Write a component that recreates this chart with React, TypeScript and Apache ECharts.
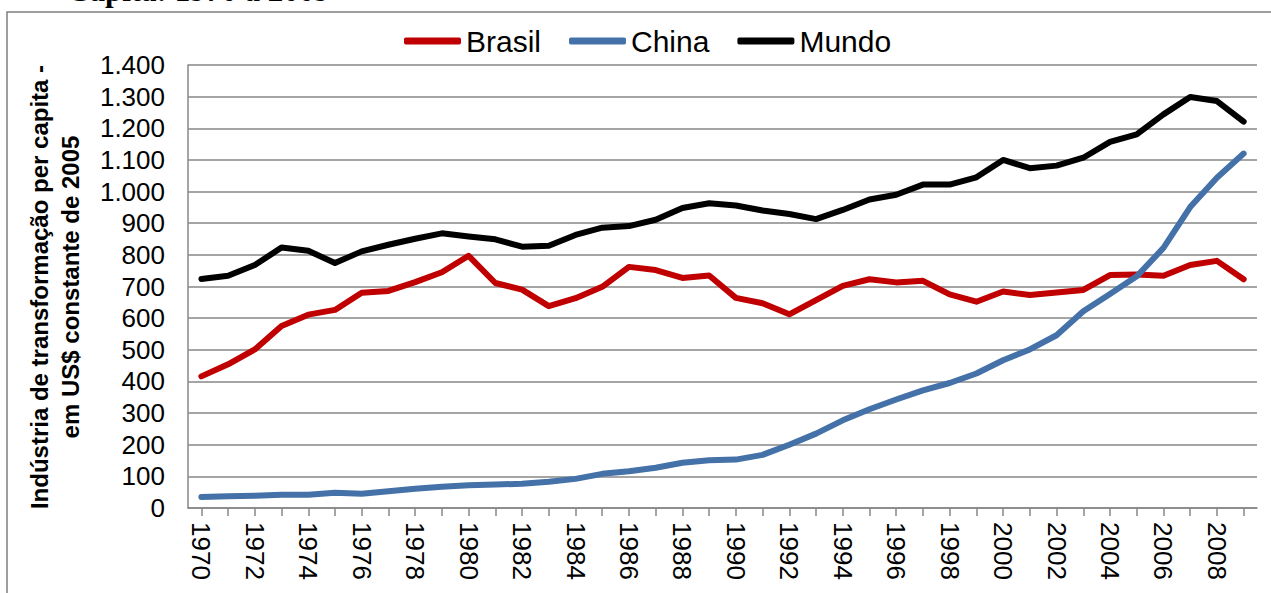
import React, { useEffect, useRef } from "react";
import * as echarts from "echarts";

const years = [
  "1970","1971","1972","1973","1974","1975","1976","1977","1978","1979",
  "1980","1981","1982","1983","1984","1985","1986","1987","1988","1989",
  "1990","1991","1992","1993","1994","1995","1996","1997","1998","1999",
  "2000","2001","2002","2003","2004","2005","2006","2007","2008","2009",
];

const brasil = [
  416, 454, 501, 575, 611, 626, 680, 686, 714, 745,
  797, 711, 690, 638, 663, 699, 762, 752, 727, 735,
  664, 647, 612, 657, 702, 723, 713, 718, 675, 652,
  684, 673, 681, 689, 736, 738, 734, 768, 781, 723,
];

const china = [
  35, 37, 39, 42, 42, 48, 45, 53, 61, 67,
  72, 74, 77, 83, 92, 108, 116, 127, 143, 151,
  153, 168, 200, 235, 277, 312, 343, 372, 395, 425,
  467, 501, 546, 622, 676, 732, 822, 951, 1044, 1120,
];

const mundo = [
  724, 734, 768, 823, 813, 774, 811, 832, 851, 868,
  858, 849, 826, 829, 863, 886, 891, 911, 948, 963,
  956, 940, 929, 913, 942, 975, 990, 1022, 1022, 1045,
  1100, 1074, 1082, 1107, 1157, 1181, 1244, 1299, 1286, 1221,
];

const seriesNames = ["Brasil", "China", "Mundo"];
const seriesColors = ["#C00000", "#4471A8", "#000000"];
const yAxisTitle = "Indústria de transformação per capita -\nem US$ constante de 2005";
const topTitle = "Capita: 1970 a 2009";

function fmt(v: number): string {
  if (v >= 1000) {
    return Math.floor(v / 1000) + "." + String(v % 1000).padStart(3, "0");
  }
  return String(v);
}

export default function App() {
  const ref = useRef<HTMLDivElement>(null);
  useEffect(() => {
    if (!ref.current) return;
    const chart = echarts.init(ref.current, null, { renderer: "svg" });
    const values = [brasil, china, mundo];
    const gridColor = "#878787";
    chart.setOption({
      animation: false,
      backgroundColor: "#ffffff",
      textStyle: { fontFamily: "Liberation Sans" },
      graphic: [
        {
          type: "rect",
          z: -10,
          shape: { x: 7, y: 12, width: 1400, height: 800 },
          style: { fill: "none", stroke: "#7f7f7f", lineWidth: 1.5 },
        },
        {
          type: "text",
          left: 67,
          top: -25,
          style: {
            text: topTitle,
            font: 'bold 31px "Liberation Serif"',
            fill: "#000",
          },
        },
        {
          type: "text",
          x: 55,
          y: 287,
          rotation: Math.PI / 2,
          style: {
            text: yAxisTitle,
            font: 'bold 24px "Liberation Sans"',
            fill: "#000",
            align: "center",
            verticalAlign: "middle",
            lineHeight: 31,
          },
        },
      ],
      legend: {
        left: 404,
        top: 26,
        padding: 0,
        itemWidth: 57,
        itemHeight: 7,
        itemGap: 28,
        icon: "roundRect",
        textStyle: { fontSize: 30, color: "#000", fontFamily: "Liberation Sans" },
        data: seriesNames,
      },
      grid: { left: 188, right: 14, top: 65, bottom: 85, containLabel: false },
      xAxis: {
        type: "category",
        data: years,
        boundaryGap: true,
        axisLine: { show: true, lineStyle: { color: gridColor, width: 1.5 } },
        axisTick: {
          show: true,
          alignWithLabel: true,
          interval: 0,
          length: 8,
          lineStyle: { color: gridColor, width: 1.5 },
        },
        axisLabel: {
          interval: 1,
          rotate: -90,
          margin: 14,
          fontSize: 26,
          color: "#000",
          fontFamily: "Liberation Sans",
        },
        splitLine: { show: false },
      },
      yAxis: {
        type: "value",
        min: 0,
        max: 1400,
        interval: 100,
        axisLine: { show: true, lineStyle: { color: gridColor, width: 1.5 } },
        axisTick: { show: false },
        axisLabel: {
          formatter: (v: number) => fmt(v),
          fontSize: 26,
          margin: 23,
          color: "#000",
          fontFamily: "Liberation Sans",
        },
        splitLine: { show: true, lineStyle: { color: gridColor, width: 1.5 } },
      },
      series: seriesNames.map((name, i) => ({
        name,
        type: "line",
        data: values[i],
        symbol: "none",
        color: seriesColors[i],
        lineStyle: { width: 6, color: seriesColors[i], cap: "round", join: "round" },
        z: 2 + i,
      })),
    });
    return () => chart.dispose();
  }, []);
  return (
    <div
      ref={ref}
      style={{ position: "absolute", left: 0, top: 0, width: 1271, height: 593, background: "#fff" }}
    />
  );
}
